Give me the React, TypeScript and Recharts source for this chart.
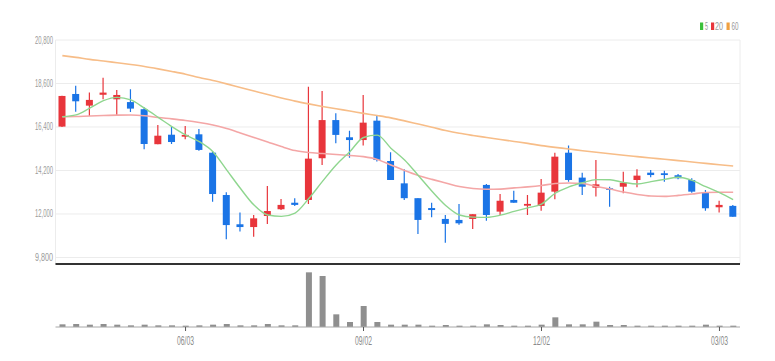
import React from "react";
import {
  ComposedChart,
  BarChart,
  Bar,
  Line,
  XAxis,
  YAxis,
  CartesianGrid,
} from "recharts";

// weekly candles, Apr 2024 - Mar 2025
const dates = [
  "04/01", "04/08", "04/15", "04/22", "04/29", "05/06", "05/13", "05/20", "05/27", "06/03",
  "06/10", "06/17", "06/24", "07/01", "07/08", "07/15", "07/22", "07/29", "08/05", "08/12",
  "08/19", "08/26", "09/02", "09/09", "09/16", "09/23", "09/30", "10/07", "10/14", "10/21",
  "10/28", "11/04", "11/11", "11/18", "11/25", "12/02", "12/09", "12/16", "12/23", "12/30",
  "01/06", "01/13", "01/20", "01/27", "02/03", "02/10", "02/17", "02/24", "03/03", "03/10",
];

const opens = [
  16420, 18070, 17480, 18030, 17800, 17660, 17300, 15530, 16010, 15910,
  16030, 15100, 12960, 11480, 11340, 11900, 12240, 12570, 12710, 14820,
  16750, 15880, 15740, 16720, 14680, 13550, 12800, 12300, 11750, 11700,
  11750, 13470, 12120, 12710, 12420, 12410, 13130, 15100, 13840, 13330,
  13300, 13380, 13720, 14090, 14060, 13960, 13720, 13080, 12340, 12410,
];
const highs = [
  17980, 18490, 18140, 18890, 18270, 18310, 17400, 16500, 16420, 16450,
  16300, 15190, 13100, 12070, 11950, 13420, 12760, 12800, 18440, 18220,
  17090, 16210, 18020, 16960, 15120, 14260, 12800, 12570, 11950, 12510,
  11990, 13520, 13010, 13180, 12960, 13770, 15100, 15460, 14090, 14730,
  13380, 14140, 14260, 14230, 14190, 14020, 13810, 13210, 12670, 12460,
];
const lows = [
  16400, 17170, 16960, 17800, 17010, 17160, 15270, 15530, 15540, 15780,
  15200, 12620, 10720, 11110, 10850, 11500, 12200, 12400, 12510, 14480,
  15580, 14850, 15460, 14650, 13720, 12710, 10990, 11830, 10550, 11450,
  11240, 11660, 11950, 12570, 11950, 12170, 12740, 13630, 12960, 12880,
  12370, 13050, 13350, 13860, 13630, 13760, 13080, 12170, 12070, 11860,
];
const closes = [
  17970, 17700, 17770, 18140, 18020, 17330, 15540, 15960, 15640, 16000,
  15240, 13010, 11440, 11340, 11780, 12150, 12460, 12460, 14800, 16750,
  16000, 15740, 16620, 14730, 13720, 12800, 11700, 12200, 11500, 11530,
  11990, 11950, 12670, 12570, 12510, 13080, 14900, 13720, 13380, 13500,
  13220, 13580, 13940, 13970, 13970, 13810, 13130, 12290, 12460, 11860,
];
const volumes = [
  160000, 180000, 140000, 180000, 140000, 100000, 140000, 100000, 100000, 80000,
  100000, 140000, 180000, 100000, 100000, 180000, 100000, 100000, 3280000, 3060000,
  760000, 300000, 1260000, 300000, 140000, 140000, 140000, 80000, 120000, 80000,
  80000, 160000, 120000, 80000, 80000, 140000, 580000, 160000, 160000, 320000,
  120000, 120000, 80000, 80000, 80000, 80000, 80000, 140000, 80000, 80000,
];
const ma5 = [
  16920, 17010, 17350, 17730, 17900, 17770, 17350, 16890, 16420, 16000,
  15660, 15150, 14230, 13300, 12450, 11950, 11880, 12050, 12780, 13650,
  14480, 15150, 15870, 15990, 15330, 14730, 13950, 13150, 12430, 11950,
  11840, 11830, 11940, 12130, 12310, 12500, 13050, 13370, 13580, 13740,
  13730, 13600, 13520, 13640, 13750, 13860, 13700, 13380, 13080, 12730,
];
const ma20 = [
  16920, 16930, 16960, 16980, 17000, 17010, 16970, 16880, 16810, 16730,
  16630, 16500, 16320, 16100, 15870, 15640, 15410, 15210, 15110, 15060,
  15010, 14960, 14900, 14760, 14480, 14200, 13950, 13750, 13570, 13390,
  13290, 13250, 13260, 13320, 13370, 13440, 13540, 13570, 13540, 13390,
  13260, 13110, 12990, 12910, 12890, 12940, 13010, 13090, 13100, 13100,
];
const ma60 = [
  20010, 19920, 19820, 19740, 19650, 19560, 19460, 19340, 19210, 19070,
  18900, 18750, 18580, 18400, 18220, 18040, 17870, 17710, 17570, 17440,
  17320, 17210, 17090, 16980, 16860, 16710, 16550, 16390, 16220, 16080,
  15970, 15870, 15770, 15670, 15570, 15460, 15370, 15290, 15200, 15120,
  15050, 14970, 14900, 14830, 14770, 14700, 14630, 14560, 14490, 14430,
];

const priceTicks = [9800, 12000, 14200, 16400, 18600, 20800];
const dateTicks = ["06/03", "09/02", "12/02", "03/03"];

const UP = "#e8353b";
const DOWN = "#1a74e6";

const data = dates.map((date, i) => ({
  date,
  open: opens[i],
  high: highs[i],
  low: lows[i],
  close: closes[i],
  volume: volumes[i],
  ma5: ma5[i],
  ma20: ma20[i],
  ma60: ma60[i],
}));

const Candle = (props: any) => {
  const { x, y, width, height, payload } = props;
  const { open, close, high, low } = payload;
  const top = Math.min(y, y + height);
  const h = Math.abs(height);
  const py = (v: number) => top + ((high - v) / (high - low)) * h;
  const color = close >= open ? UP : DOWN;
  const cx = x + width / 2;
  const bodyTop = py(Math.max(open, close));
  const bodyH = Math.max(1.5, Math.abs(py(open) - py(close)));
  return (
    <g>
      <line x1={cx} x2={cx} y1={top} y2={top + h} stroke={color} strokeWidth={1.2} />
      <rect x={x} y={bodyTop} width={width} height={bodyH} fill={color} />
    </g>
  );
};

const PriceTick = ({ x, y, payload }: any) => {
  const label = payload.value.toLocaleString("en-US");
  return (
    <text
      x={x - 20.5}
      y={y + 3.5}
      fontSize={10.5}
      fill="#9a9a9a"
      textLength={18}
      lengthAdjust="spacingAndGlyphs"
    >
      {label}
    </text>
  );
};

const DateTick = ({ x, y, payload }: any) => (
  <text
    x={x - 8.5}
    y={y + 12}
    fontSize={12}
    fill="#8a8a8a"
    textLength={17}
    lengthAdjust="spacingAndGlyphs"
  >
    {payload.value}
  </text>
);

const legendItems = [
  { label: "5", color: "#3cc03c", x: 0, tx: 5, tw: 3 },
  { label: "20", color: "#e8353b", x: 11, tx: 15, tw: 8 },
  { label: "60", color: "#f0a040", x: 26.5, tx: 31.5, tw: 7 },
];

const font = "'Liberation Sans', Arial, sans-serif";

export default function App() {
  return (
    <div style={{ position: "relative", width: 759, fontFamily: font }}>
      <svg
        width={42}
        height={12}
        style={{ position: "absolute", left: 692, top: 12.5 }}
      >
        {legendItems.map((it) => (
          <g key={it.label}>
            <rect x={it.x} y={1.5} width={3.2} height={7.5} fill={it.color} />
            <text
              x={it.tx}
              y={9}
              fontSize={10}
              fill="#999"
              textLength={it.tw}
              lengthAdjust="spacingAndGlyphs"
            >
              {it.label}
            </text>
          </g>
        ))}
      </svg>

      <ComposedChart
        width={759}
        height={258}
        data={data}
        margin={{ top: 32, right: 27, bottom: 0, left: 0 }}
      >
        <CartesianGrid stroke="#ececec" />
        <XAxis
          dataKey="date"
          ticks={dateTicks}
          tick={false}
          tickLine={false}
          height={2}
          axisLine={{ stroke: "#333", strokeWidth: 2 }}
        />
        <YAxis
          domain={[9471, 20800]}
          ticks={priceTicks}
          interval={0}
          width={47.5}
          tickSize={0}
          tickMargin={0}
          axisLine={false}
          tickLine={false}
          tick={<PriceTick />}
          allowDataOverflow
        />
        <Bar
          dataKey={(d: any) => [d.low, d.high]}
          barSize={7}
          shape={<Candle />}
          isAnimationActive={false}
        />
        <Line type="monotone" dataKey="ma60" stroke="#f7bd88" strokeWidth={1.6} dot={false} isAnimationActive={false} />
        <Line type="monotone" dataKey="ma20" stroke="#f4a6a6" strokeWidth={1.6} dot={false} isAnimationActive={false} />
        <Line type="monotone" dataKey="ma5" stroke="#8fd68f" strokeWidth={1.4} dot={false} isAnimationActive={false} />
      </ComposedChart>

      <BarChart
        width={759}
        height={86}
        data={data}
        margin={{ top: 2, right: 27, bottom: 0, left: 47.5 }}
      >
        <XAxis
          dataKey="date"
          ticks={dateTicks}
          interval={0}
          height={25}
          tickSize={4}
          tickMargin={2}
          axisLine={{ stroke: "#a8a8a8" }}
          tickLine={{ stroke: "#555" }}
          tick={<DateTick />}
        />
        <YAxis hide domain={[0, 3540000]} />
        <Bar dataKey="volume" fill="#8f8f8f" barSize={6} isAnimationActive={false} />
      </BarChart>
    </div>
  );
}
